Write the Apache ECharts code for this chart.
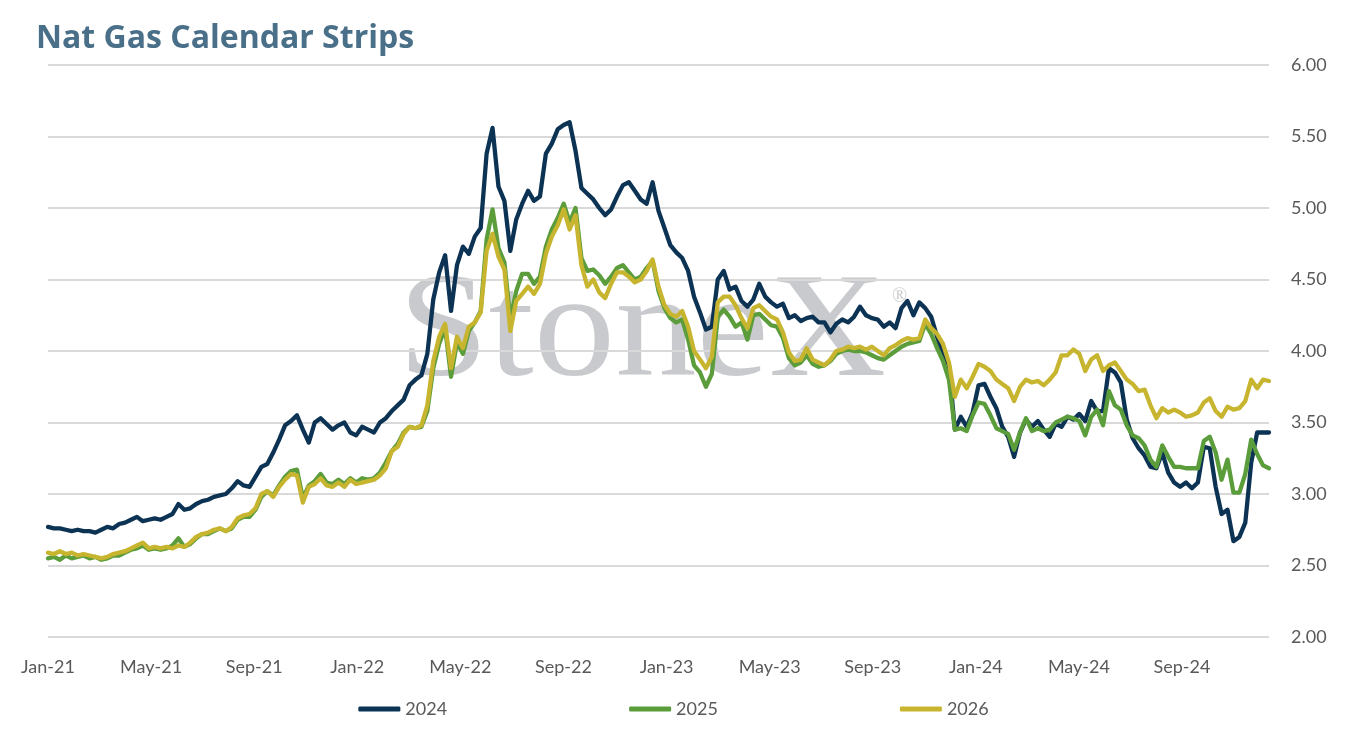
<!DOCTYPE html>
<html>
<head>
<meta charset="utf-8">
<script src="https://cdn.jsdelivr.net/npm/echarts@6/dist/echarts.min.js"></script>
<style>
html,body{margin:0;padding:0;background:#fff;}
#chart{width:1347px;height:730px;}
</style>
</head>
<body>
<div id="chart"></div>
<script>
// Weekly observations starting 2021-01-01
var startDate = '2021-01-01';
var stepDays = 7;
var seriesNames = ['2024', '2025', '2026'];
var xTickLabels = ['Jan-21','May-21','Sep-21','Jan-22','May-22','Sep-22','Jan-23','May-23','Sep-23','Jan-24','May-24','Sep-24'];
var yTicks = [2.00, 2.50, 3.00, 3.50, 4.00, 4.50, 5.00, 5.50, 6.00];

var s2024 = [
2.77,2.76,2.76,2.75,2.74,2.75,2.74,2.74,2.73,2.75,
2.77,2.76,2.79,2.80,2.82,2.84,2.81,2.82,2.83,2.82,
2.84,2.86,2.93,2.89,2.90,2.93,2.95,2.96,2.98,2.99,
3.00,3.04,3.09,3.06,3.05,3.12,3.19,3.21,3.29,3.38,
3.48,3.51,3.55,3.45,3.36,3.50,3.53,3.49,3.45,3.48,
3.50,3.43,3.41,3.47,3.45,3.43,3.50,3.53,3.58,3.62,
3.66,3.76,3.80,3.83,3.98,4.36,4.55,4.67,4.28,4.60,
4.73,4.68,4.80,4.86,5.38,5.56,5.15,5.05,4.70,4.92,
5.03,5.12,5.05,5.08,5.38,5.45,5.55,5.58,5.60,5.40,
5.14,5.10,5.06,5.00,4.95,4.99,5.08,5.16,5.18,5.12,
5.06,5.03,5.18,4.98,4.86,4.74,4.69,4.65,4.56,4.38,
4.27,4.15,4.17,4.50,4.56,4.43,4.45,4.35,4.31,4.36,
4.47,4.38,4.34,4.31,4.33,4.23,4.25,4.21,4.23,4.24,
4.20,4.20,4.13,4.19,4.22,4.20,4.24,4.31,4.25,4.23,
4.22,4.17,4.20,4.16,4.30,4.35,4.25,4.34,4.30,4.24,
4.10,3.98,3.90,3.45,3.54,3.47,3.57,3.76,3.77,3.68,
3.60,3.47,3.40,3.26,3.43,3.52,3.47,3.51,3.45,3.40,
3.49,3.47,3.54,3.52,3.56,3.51,3.65,3.58,3.58,3.88,
3.85,3.78,3.52,3.39,3.32,3.27,3.19,3.18,3.29,3.15,
3.08,3.05,3.08,3.04,3.08,3.33,3.32,3.05,2.86,2.89,
2.67,2.70,2.80,3.22,3.43,3.43,3.43
];

var s2025 = [
2.55,2.56,2.54,2.57,2.55,2.56,2.57,2.55,2.56,2.54,
2.55,2.57,2.57,2.59,2.61,2.62,2.64,2.61,2.62,2.61,
2.62,2.64,2.69,2.63,2.65,2.69,2.72,2.72,2.74,2.76,
2.74,2.76,2.82,2.84,2.84,2.89,2.98,3.02,2.99,3.06,
3.12,3.16,3.17,2.97,3.06,3.09,3.14,3.08,3.07,3.10,
3.07,3.11,3.08,3.11,3.10,3.11,3.15,3.22,3.30,3.35,
3.43,3.47,3.46,3.47,3.58,3.88,4.05,4.16,3.82,4.06,
3.98,4.14,4.20,4.28,4.78,4.99,4.72,4.62,4.22,4.42,
4.54,4.54,4.47,4.52,4.73,4.85,4.93,5.03,4.90,5.00,
4.65,4.56,4.57,4.53,4.47,4.52,4.58,4.60,4.55,4.50,
4.52,4.58,4.63,4.42,4.30,4.23,4.20,4.22,4.08,3.90,
3.85,3.75,3.84,4.24,4.29,4.24,4.17,4.20,4.08,4.25,
4.26,4.22,4.18,4.17,4.09,3.95,3.90,3.92,3.97,3.91,
3.89,3.90,3.93,3.98,4.00,4.01,4.00,4.00,3.99,3.97,
3.95,3.94,3.97,4.00,4.03,4.05,4.06,4.07,4.19,4.12,
4.02,3.93,3.80,3.45,3.46,3.44,3.55,3.64,3.63,3.55,
3.46,3.44,3.42,3.31,3.43,3.53,3.44,3.46,3.44,3.45,
3.50,3.52,3.54,3.53,3.51,3.41,3.54,3.59,3.48,3.72,
3.62,3.59,3.48,3.41,3.39,3.34,3.24,3.19,3.34,3.26,
3.19,3.19,3.18,3.18,3.18,3.37,3.40,3.29,3.10,3.24,
3.01,3.01,3.14,3.38,3.28,3.20,3.18
];

var s2026 = [
2.59,2.58,2.60,2.58,2.59,2.57,2.58,2.57,2.56,2.55,
2.56,2.58,2.59,2.60,2.62,2.64,2.66,2.62,2.63,2.62,
2.63,2.62,2.64,2.63,2.66,2.70,2.72,2.73,2.75,2.76,
2.74,2.77,2.83,2.85,2.86,2.90,3.00,3.02,2.98,3.05,
3.10,3.14,3.13,2.94,3.05,3.07,3.11,3.06,3.05,3.08,
3.05,3.10,3.07,3.08,3.09,3.10,3.13,3.18,3.30,3.33,
3.42,3.47,3.46,3.48,3.62,3.93,4.10,4.19,3.88,4.10,
4.02,4.17,4.20,4.27,4.70,4.82,4.66,4.57,4.14,4.35,
4.40,4.45,4.40,4.47,4.68,4.80,4.88,4.99,4.85,4.95,
4.60,4.45,4.50,4.41,4.37,4.47,4.55,4.55,4.52,4.48,
4.50,4.56,4.64,4.45,4.32,4.26,4.24,4.28,4.17,4.00,
3.94,3.88,3.96,4.34,4.38,4.38,4.32,4.23,4.16,4.30,
4.32,4.28,4.24,4.22,4.13,3.99,3.93,3.94,4.02,3.94,
3.92,3.90,3.94,4.00,4.01,4.03,4.02,4.03,4.01,4.03,
4.00,3.97,4.02,4.04,4.07,4.09,4.08,4.09,4.22,4.16,
4.12,4.05,3.92,3.68,3.80,3.74,3.82,3.91,3.89,3.86,
3.80,3.77,3.74,3.65,3.75,3.80,3.78,3.79,3.76,3.80,
3.85,3.97,3.97,4.01,3.98,3.86,3.94,3.97,3.86,3.90,
3.92,3.86,3.80,3.77,3.72,3.73,3.62,3.53,3.60,3.57,
3.59,3.57,3.54,3.55,3.57,3.64,3.67,3.58,3.54,3.61,
3.59,3.60,3.65,3.80,3.74,3.80,3.79
];

var seriesColors = ['#0d3354', '#5b9c3b', '#c8b52f'];

// Day offsets (days since 2021-01-01) for each observation
function dayOffsets(n) {
  var out = [];
  for (var i = 0; i < n; i++) out.push(i * stepDays);
  return out;
}
var days = dayOffsets(s2024.length);
function pairs(vals) { return vals.map(function (v, i) { return [days[i], v]; }); }

var tickInterval = 365.25 / 3;
var chart = echarts.init(document.getElementById('chart'), null, {renderer: 'canvas'});
var font = 'Lato, "Noto Sans", sans-serif';

var option = {
  animation: false,
  backgroundColor: '#ffffff',
  title: {
    text: 'Nat Gas Calendar Strips',
    left: 31, top: 18,
    textStyle: {color: '#4a7089', fontSize: 32, fontWeight: 'bold', fontFamily: '"Open Sans", Lato, sans-serif'}
  },
  graphic: [{
    type: 'text', z: 0, left: 398, top: 262,
    scaleX: 1.1,
    style: {text: 'StoneX', fill: '#c9cacd', font: '148px "Liberation Serif", "DejaVu Serif", serif'}
  }, {
    type: 'text', z: 0, left: 892, top: 287,
    style: {text: '\u00AE', fill: '#c9cacd', font: '20px "Liberation Serif", serif'}
  }],
  grid: {left: 48, right: 78, top: 65, bottom: 93, containLabel: false},
  legend: {
    bottom: 7, left: 'center',
    itemGap: 182, itemWidth: 42, itemHeight: 5, icon: 'roundRect',
    textStyle: {color: '#595959', fontSize: 18, fontFamily: font},
    data: seriesNames
  },
  xAxis: {
    type: 'value', min: 0, max: days[days.length - 1], interval: tickInterval,
    axisLine: {show: false}, axisTick: {show: false}, splitLine: {show: false},
    axisLabel: {
      color: '#595959', fontSize: 18, fontFamily: font, margin: 21,
      showMaxLabel: false,
      formatter: function (v) {
        var k = Math.round(v / tickInterval);
        if (Math.abs(v - k * tickInterval) > 0.5) return '';
        return xTickLabels[k] || '';
      }
    }
  },
  yAxis: {
    type: 'value', position: 'right', min: yTicks[0], max: yTicks[yTicks.length - 1], interval: 0.5,
    axisLine: {show: false}, axisTick: {show: false},
    splitLine: {lineStyle: {color: '#d9d9d9', width: 2}},
    axisLabel: {
      color: '#595959', fontSize: 18, fontFamily: font, margin: 22,
      formatter: function (v) { return v.toFixed(2); }
    }
  },
  series: [s2024, s2025, s2026].map(function (vals, idx) {
    return {
      name: seriesNames[idx], type: 'line', data: pairs(vals),
      showSymbol: false, symbol: 'none', z: 2 + idx,
      lineStyle: {color: seriesColors[idx], width: 4.3, join: 'round', cap: 'round'},
      itemStyle: {color: seriesColors[idx]}
    };
  })
};
chart.setOption(option);
</script>
</body>
</html>
